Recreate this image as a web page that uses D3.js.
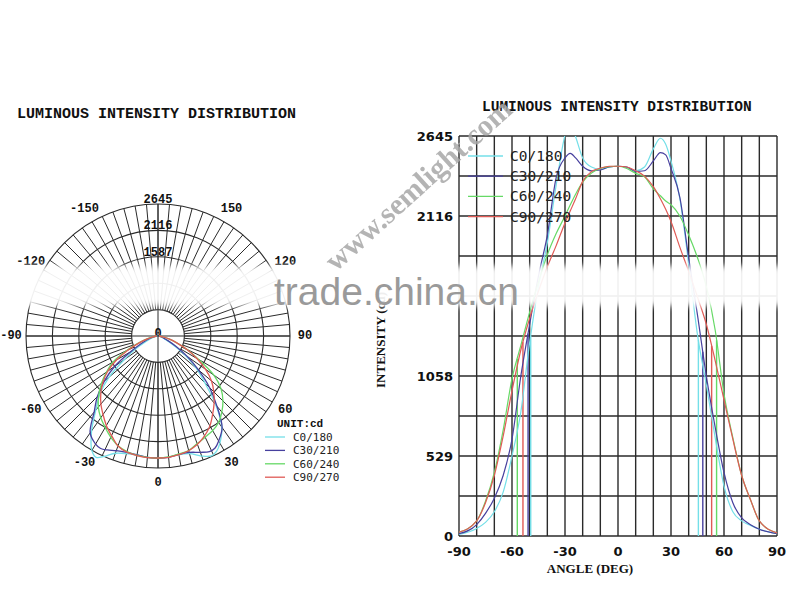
<!DOCTYPE html>
<html><head><meta charset="utf-8">
<script src="https://cdn.jsdelivr.net/npm/d3@7"></script>
<style>body{margin:0;background:#fff}</style>
</head><body><svg id="c" width="800" height="600"></svg>
<script>
// ---------- data ----------
const angles = [-90,-80,-75,-70,-65,-60,-55,-50,-45,-40,-35,-30,-27,-24,-20,-15,-10,-5,0,5,10,15,20,24,27,30,35,40,45,50,55,60,65,70,75,80,90];
const seriesNames = ["C0/180","C30/210","C60/240","C90/270"];
const seriesColors = ["#74dfe8","#47409e","#66d966","#e05a55"];
const c0_180  = [10,50,90,160,290,529,820,1280,1650,1940,2320,2650,2730,2640,2500,2440,2425,2440,2445,2438,2415,2440,2560,2630,2590,2480,2230,1800,1330,1000,650,330,160,100,70,45,15];
const c30_210 = [15,75,150,250,400,640,1058,1400,1720,1990,2370,2500,2530,2500,2445,2415,2420,2440,2445,2440,2410,2415,2480,2535,2520,2430,2240,1840,1460,1058,720,420,220,120,75,45,15];
const c60_240 = [25,100,230,420,700,1040,1260,1480,1680,1860,2000,2116,2190,2260,2340,2400,2430,2442,2445,2430,2398,2375,2295,2250,2215,2190,2116,1990,1840,1650,1362,940,650,400,240,100,20];
const c90_270 = [25,100,220,400,660,960,1230,1440,1620,1780,1920,2070,2150,2230,2345,2410,2432,2445,2445,2440,2415,2380,2310,2230,2160,2080,1910,1750,1580,1400,1160,900,640,400,240,100,20];
const beamAngles = [[-49.4,45.5],[-50.9,48],[-57,55.8],[-53.8,53]];
const yTickLabels = [0,529,1058,2116,2645];
const xTickLabels = [-90,-60,-30,0,30,60,90];
const polarRings = [529,1058,1587,2116,2645];
const polarRingLabels = [1587,2116,2645];
const polarAngleLabels = [-150,-120,-90,-60,-30,0,30,60,90,120,150];
const titleText = "LUMINOUS INTENSITY DISTRIBUTION";

const seriesValues = [c0_180,c30_210,c60_240,c90_270];
const series = seriesNames.map((n,i)=>({name:n,color:seriesColors[i],
  pts:angles.map((a,j)=>[a,seriesValues[i][j]]), beams:beamAngles[i]}));

const svg = d3.select("#c");
svg.append("rect").attr("width",800).attr("height",600).attr("fill","#fff");
const mono = "'Liberation Mono','DejaVu Sans Mono',monospace";
const mono2 = "'DejaVu Sans Mono',monospace";
const gridCol = "#2a2a2a";

// ---------- polar chart ----------
const cx = 158, cy = 336;
const rS = d3.scaleLinear().domain([0,2645]).range([0,132]);
const pg = svg.append("g");
const rad = a => a*Math.PI/180;
const px = (a,v) => cx + rS(v)*Math.sin(rad(a));
const py = (a,v) => cy + rS(v)*Math.cos(rad(a));

pg.selectAll("line.rad").data(d3.range(0,360,5)).join("line")
  .attr("x1",a=>px(a,polarRings[0])).attr("y1",a=>py(a,polarRings[0]))
  .attr("x2",a=>px(a,2645)).attr("y2",a=>py(a,2645))
  .attr("stroke",gridCol).attr("stroke-width",1);
pg.selectAll("line.axis").data([0,90]).join("line")
  .attr("x1",a=>px(a,2645)).attr("y1",a=>py(a,2645))
  .attr("x2",a=>px(a+180,2645)).attr("y2",a=>py(a+180,2645))
  .attr("stroke",gridCol).attr("stroke-width",1);
pg.selectAll("circle").data(polarRings).join("circle")
  .attr("cx",cx).attr("cy",cy).attr("r",d=>rS(d))
  .attr("fill","none").attr("stroke",gridCol).attr("stroke-width",1.1);

pg.selectAll("text.rl").data(polarRingLabels).join("text")
  .attr("x",cx).attr("y",d=>cy-rS(d)-1).attr("text-anchor","middle")
  .attr("font-family",mono).attr("font-weight","bold").attr("font-size",12)
  .attr("fill","#111").text(d=>d);
pg.append("text").attr("x",cx).attr("y",cy+1).attr("text-anchor","middle")
  .attr("font-family",mono).attr("font-weight","bold").attr("font-size",12).attr("fill","#111").text("0");

pg.selectAll("text.al").data(polarAngleLabels).join("text")
  .attr("x",a=>cx+147*Math.sin(rad(a))).attr("y",a=>cy+147*Math.cos(rad(a))-(Math.abs(a)===120?1:0))
  .attr("text-anchor","middle").attr("dominant-baseline","central")
  .attr("font-family",mono).attr("font-weight","bold").attr("font-size",12)
  .attr("fill","#111").text(d=>d);

const polarLine = d3.line().x(d=>px(d[0],d[1])).y(d=>py(d[0],d[1])).curve(d3.curveCatmullRom.alpha(0.5));
pg.selectAll("path.pc").data(series).join("path")
  .attr("d",s=>polarLine(s.pts)).attr("fill","none")
  .attr("stroke",s=>s.color).attr("stroke-width",1.3);

svg.append("text").attr("x",17).attr("y",118).attr("font-family",mono).attr("font-weight","bold")
  .attr("font-size",15).attr("fill","#111").text(titleText);

// polar legend
svg.append("text").attr("x",277).attr("y",427).attr("font-family",mono).attr("font-weight","bold")
  .attr("font-size",11).attr("fill","#111").text("UNIT:cd");
const pl = svg.append("g").selectAll("g").data(series).join("g")
  .attr("transform",(s,i)=>`translate(265,${437+i*13.4})`);
pl.append("line").attr("x1",0).attr("x2",20).attr("stroke",s=>s.color).attr("stroke-width",1.3);
pl.append("text").attr("x",28).attr("y",4).attr("font-family",mono2).attr("font-size",11)
  .attr("fill","#222").text(s=>s.name);

// ---------- cartesian chart ----------
const x = d3.scaleLinear().domain([-90,90]).range([459,777]);
const y = d3.scaleLinear().domain([0,2645]).range([536,136]);
const cg = svg.append("g");
cg.selectAll("line.vg").data(d3.range(-90,91,10)).join("line")
  .attr("x1",d=>x(d)).attr("x2",d=>x(d)).attr("y1",y(0)).attr("y2",y(2645))
  .attr("stroke",gridCol).attr("stroke-width",1.4);
cg.selectAll("line.hg").data(d3.range(0,2646,264.5)).join("line")
  .attr("x1",x(-90)).attr("x2",x(90)).attr("y1",d=>y(d)).attr("y2",d=>y(d))
  .attr("stroke",gridCol).attr("stroke-width",1.4);

const bold = "'DejaVu Sans',Verdana,sans-serif";
cg.selectAll("text.yt").data(yTickLabels).join("text")
  .attr("x",453).attr("y",d=>y(d)).attr("dominant-baseline","central").attr("text-anchor","end")
  .attr("font-family",bold).attr("font-weight","bold").attr("font-size",13).attr("fill","#111").text(d=>d);
cg.selectAll("text.xt").data(xTickLabels).join("text")
  .attr("x",d=>x(d)).attr("y",556).attr("text-anchor","middle")
  .attr("font-family",bold).attr("font-weight","bold").attr("font-size",13).attr("fill","#111").text(d=>d);
svg.append("text").attr("x",590).attr("y",573).attr("text-anchor","middle")
  .attr("font-family","'Liberation Serif',serif").attr("font-weight","bold").attr("font-size",13)
  .attr("fill","#111").text("ANGLE (DEG)");
svg.append("text").attr("transform","translate(385,340) rotate(-90)").attr("text-anchor","middle")
  .attr("font-family","'Liberation Serif',serif").attr("font-weight","bold").attr("font-size",13)
  .attr("fill","#111").text("INTENSITY (cd)");
svg.append("text").attr("x",482).attr("y",111).attr("font-family",mono).attr("font-weight","bold")
  .attr("font-size",14.5).attr("fill","#111").text(titleText);

svg.append("clipPath").attr("id","plotClip").append("rect")
  .attr("x",459).attr("y",136).attr("width",318).attr("height",400);
const lineGen = d3.line().x(d=>x(d[0])).y(d=>y(d[1])).curve(d3.curveMonotoneX);
const interp = (pts,a)=>{ for(let i=1;i<pts.length;i++){ if(a<=pts[i][0]){ const t=(a-pts[i-1][0])/(pts[i][0]-pts[i-1][0]); return pts[i-1][1]+t*(pts[i][1]-pts[i-1][1]); } } return pts[pts.length-1][1]; };
const cc = cg.append("g").attr("clip-path","url(#plotClip)");
series.forEach(s=>{
  cc.selectAll(null).data(s.beams).join("line")
    .attr("x1",a=>x(a)).attr("x2",a=>x(a)).attr("y1",y(0)).attr("y2",a=>y(interp(s.pts,a)))
    .attr("stroke",s.color).attr("stroke-width",1.4);
});
cc.selectAll("path.cs").data(series).join("path")
  .attr("d",s=>lineGen(s.pts)).attr("fill","none")
  .attr("stroke",s=>s.color).attr("stroke-width",1.2);

// right legend
const rl = svg.append("g").selectAll("g").data(series).join("g")
  .attr("transform",(s,i)=>`translate(468,${156+i*20.2})`);
rl.append("line").attr("x1",0).attr("x2",35).attr("stroke",s=>s.color).attr("stroke-width",1.3);
rl.append("text").attr("x",42).attr("y",5).attr("font-family",mono2).attr("font-size",14.5)
  .attr("fill","#222").text(s=>s.name);

// ---------- watermarks ----------
const defs = svg.append("defs");
defs.append("filter").attr("id","blur").attr("x","-5%").attr("y","-50%").attr("width","110%").attr("height","200%")
  .append("feGaussianBlur").attr("stdDeviation",3);
svg.append("rect").attr("x",-10).attr("y",266).attr("width",795).attr("height",40)
  .attr("fill","#fff").attr("opacity",0.93).attr("filter","url(#blur)");
svg.append("text").attr("x",274).attr("y",305).attr("font-family","'Liberation Sans',Arial,sans-serif")
  .attr("font-size",39).attr("fill","#9a9a9a").text("trade.china.cn");
svg.append("text").attr("transform","translate(425,192) rotate(-42)").attr("text-anchor","middle")
  .attr("font-family","'Liberation Serif',serif").attr("font-weight","bold").attr("font-size",30)
  .attr("fill","#a8a8a8").attr("opacity",0.85).text("www.semlight.com");
</script></body></html>
